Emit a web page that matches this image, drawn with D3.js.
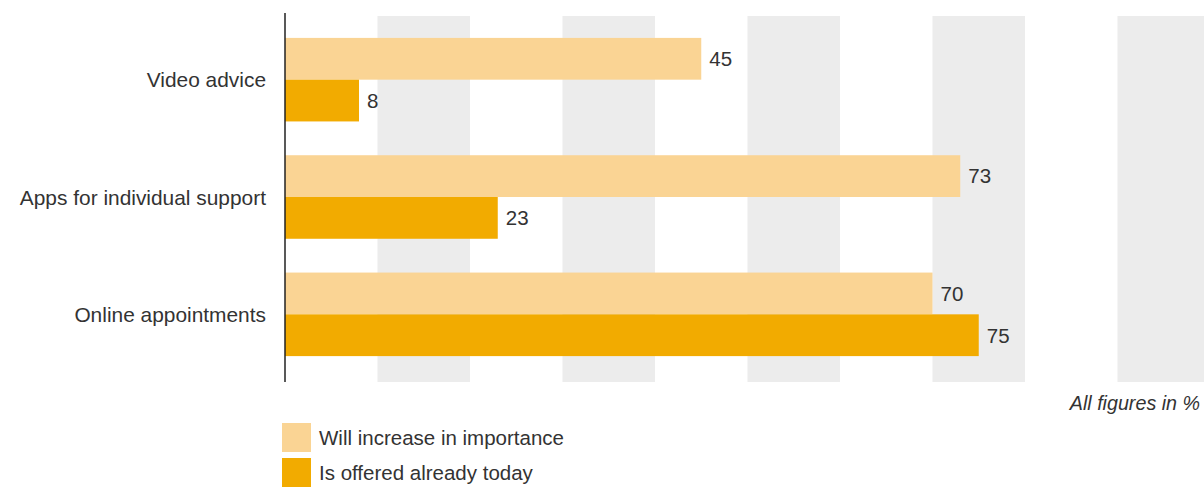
<!DOCTYPE html>
<html>
<head>
<meta charset="utf-8">
<script src="https://cdn.jsdelivr.net/npm/d3@7"></script>
<style>
  body { margin: 0; background: #fff; }
  svg text { font-family: "Liberation Sans", Arial, sans-serif; fill: #333; }
</style>
</head>
<body>
<div id="chart"></div>
<script>
// data
let categories = ["Video advice", "Apps for individual support", "Online appointments"];
let seriesNames = ["Will increase in importance", "Is offered already today"];
let increaseValues = [45, 73, 70];
let offeredValues = [8, 23, 75];
let stripeStarts = [10, 30, 50, 70, 90];
let noteText = "All figures in %";

let colors = ["#fad494", "#f2ab00"];

let width = 1204, height = 487;

let svg = d3.select("#chart")
    .append("svg")
    .attr("width", width)
    .attr("height", height);

let x = d3.scaleLinear()
    .domain([0, 100])
    .range([285, 1210]);

let y = d3.scaleBand()
    .domain(categories)
    .range([21, 373])
    .paddingInner(0.288)
    .paddingOuter(0.144);

let ySub = d3.scaleBand()
    .domain([0, 1])
    .range([0, y.bandwidth()]);

// grey stripes
svg.selectAll(".stripe")
    .data(stripeStarts)
    .enter()
    .append("rect")
    .attr("class", "stripe")
    .attr("x", d => x(d))
    .attr("y", 16)
    .attr("width", d => x(d + 10) - x(d))
    .attr("height", 382 - 16)
    .attr("fill", "#ececec");

let rows = categories.map((c, i) => ({
    cat: c,
    vals: [increaseValues[i], offeredValues[i]]
}));

let groups = svg.selectAll(".grp")
    .data(rows)
    .enter()
    .append("g")
    .attr("class", "grp")
    .attr("transform", d => `translate(0,${y(d.cat)})`);

groups.selectAll("rect")
    .data(d => d.vals.map((v, j) => ({ v: v, j: j })))
    .enter()
    .append("rect")
    .attr("x", x(0))
    .attr("y", d => ySub(d.j))
    .attr("width", d => x(d.v) - x(0))
    .attr("height", ySub.bandwidth())
    .attr("fill", d => colors[d.j]);

groups.selectAll(".val")
    .data(d => d.vals.map((v, j) => ({ v: v, j: j })))
    .enter()
    .append("text")
    .attr("class", "val")
    .attr("x", d => x(d.v) + 8)
    .attr("y", d => ySub(d.j) + ySub.bandwidth() / 2)
    .attr("dy", "0.36em")
    .style("font-size", "20.5px")
    .text(d => d.v);

// category labels
svg.selectAll(".cat")
    .data(categories)
    .enter()
    .append("text")
    .attr("class", "cat")
    .attr("x", 266)
    .attr("y", d => y(d) + y.bandwidth() / 2)
    .attr("dy", "0.36em")
    .attr("text-anchor", "end")
    .style("font-size", "20.9px")
    .text(d => d);

// axis line
svg.append("line")
    .attr("x1", x(0)).attr("x2", x(0))
    .attr("y1", 13).attr("y2", 382)
    .attr("stroke", "#222")
    .attr("stroke-width", 1.5);

// note
svg.append("text")
    .attr("x", 1200)
    .attr("y", 410)
    .attr("text-anchor", "end")
    .style("font-size", "19.7px")
    .style("font-style", "italic")
    .text(noteText);

// legend
let legend = svg.selectAll(".leg")
    .data(seriesNames)
    .enter()
    .append("g")
    .attr("class", "leg")
    .attr("transform", (d, i) => `translate(282,${423 + i * 35})`);

legend.append("rect")
    .attr("width", 29)
    .attr("height", 29)
    .attr("fill", (d, i) => colors[i]);

legend.append("text")
    .attr("x", 37)
    .attr("y", 14.5)
    .attr("dy", "0.36em")
    .style("font-size", "20.5px")
    .text(d => d);
</script>
</body>
</html>
